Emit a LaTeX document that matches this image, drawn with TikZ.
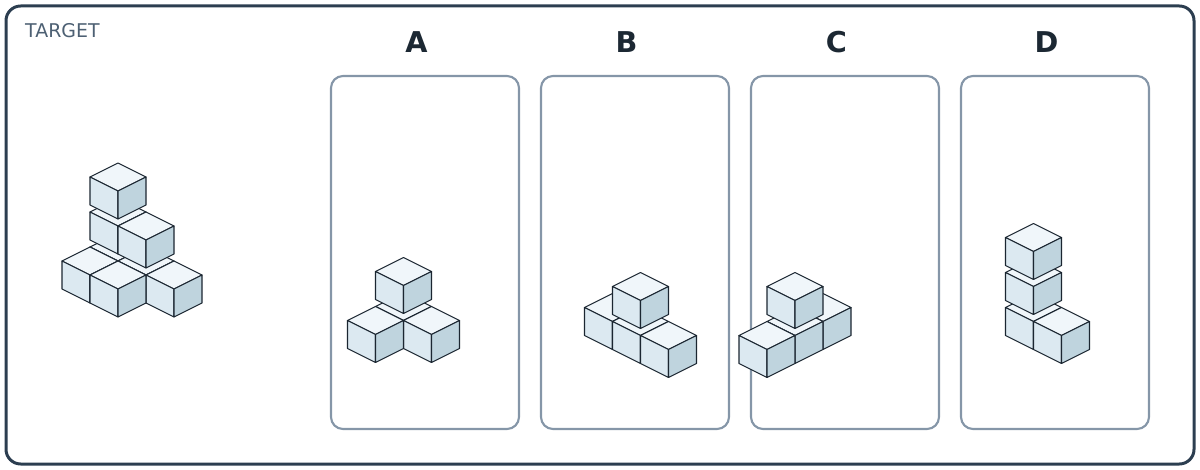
\documentclass[tikz,border=0pt]{standalone}
\usepackage{fontspec}
\setmainfont{DejaVu Sans}
\usepackage{tikz}
\definecolor{framec}{HTML}{2C3E50}
\definecolor{panelc}{HTML}{8596A8}
\definecolor{tgtc}{HTML}{4D6073}
\definecolor{labc}{HTML}{1C2833}
\definecolor{edgec}{HTML}{1B2631}
\definecolor{topc}{HTML}{F0F6FA}
\definecolor{leftc}{HTML}{DCE9F1}
\definecolor{rightc}{HTML}{BFD4DE}
\newcommand*{\cw  }{28}   % half width of a cube
\newcommand*{\ch  }{14}   % half height of the top face
\newcommand*{\cz  }{28}   % height of a cube
\newcommand*{\lift}{35}   % one layer up
\newcommand*{\pw  }{188}
\newcommand*{\ph  }{353}
% cube at cell (#3,#4,#5) of a pile whose origin is (#1,#2)
\newcommand*{\isocube}[5]{%
    \begin{scope}[shift={(#1+\cw*#3-\cw*#4, #2+\ch*#3+\ch*#4-\lift*#5)}]
        \filldraw [topface  ] (0,0) -- (\cw,\ch) -- (0,2*\ch) -- (-\cw,\ch) -- cycle;
        \filldraw [leftface ] (-\cw,\ch) -- (0,2*\ch) -- (0,2*\ch+\cz) -- (-\cw,\ch+\cz) -- cycle;
        \filldraw [rightface] (0,2*\ch) -- (\cw,\ch) -- (\cw,\ch+\cz) -- (0,2*\ch+\cz) -- cycle;
    \end{scope}}

\begin{document}
\begin{tikzpicture}[x=0.75pt, y=-0.75pt,
        cubeface/.style = {draw=edgec, line width=0.8pt, line join=round},
        topface/.style  = {cubeface, fill=topc},
        leftface/.style = {cubeface, fill=leftc},
        rightface/.style= {cubeface, fill=rightc},
        panel/.style    = {draw=panelc, line width=1.6pt, rounded corners=9pt},
        optlabel/.style = {text=labc, font=\fontsize{21.5}{26}\selectfont\bfseries}]
    \useasboundingbox (0,0) rectangle (1200,470);
    \draw [framec, line width=2.25pt, rounded corners=11pt] (6,6) rectangle (1194,464);
    \node [text=tgtc, font=\fontsize{14.2}{17}\selectfont, anchor=west] (target) at (20.5,31) {TARGET};
    \foreach \p/\lab in {0/A,1/B,2/C,3/D} {
        \draw [panel] (331+210*\p,76) rectangle ++(\pw,\ph);
        \node [optlabel] (lab\lab) at (416.5+210*\p,42) {\lab};
    }
    % target pile
    \foreach \i/\j/\k in {0/0/0,1/0/0,0/1/0,0/0/1,2/0/0,1/1/0,1/0/1,0/0/2}
        \isocube{118}{233}{\i}{\j}{\k};
    % A
    \foreach \i/\j/\k in {0/0/0,1/0/0,0/1/0,0/0/1}
        \isocube{403.5}{292.5}{\i}{\j}{\k};
    % B
    \foreach \i/\j/\k in {0/0/0,1/0/0,2/0/0,1/0/1}
        \isocube{612.5}{293.5}{\i}{\j}{\k};
    % C
    \foreach \i/\j/\k in {0/0/0,0/1/0,0/2/0,0/1/1}
        \isocube{823}{293.5}{\i}{\j}{\k};
    % D
    \foreach \i/\j/\k in {0/0/0,1/0/0,0/0/1,0/0/2}
        \isocube{1033.5}{293.5}{\i}{\j}{\k};
\end{tikzpicture}
\end{document}
